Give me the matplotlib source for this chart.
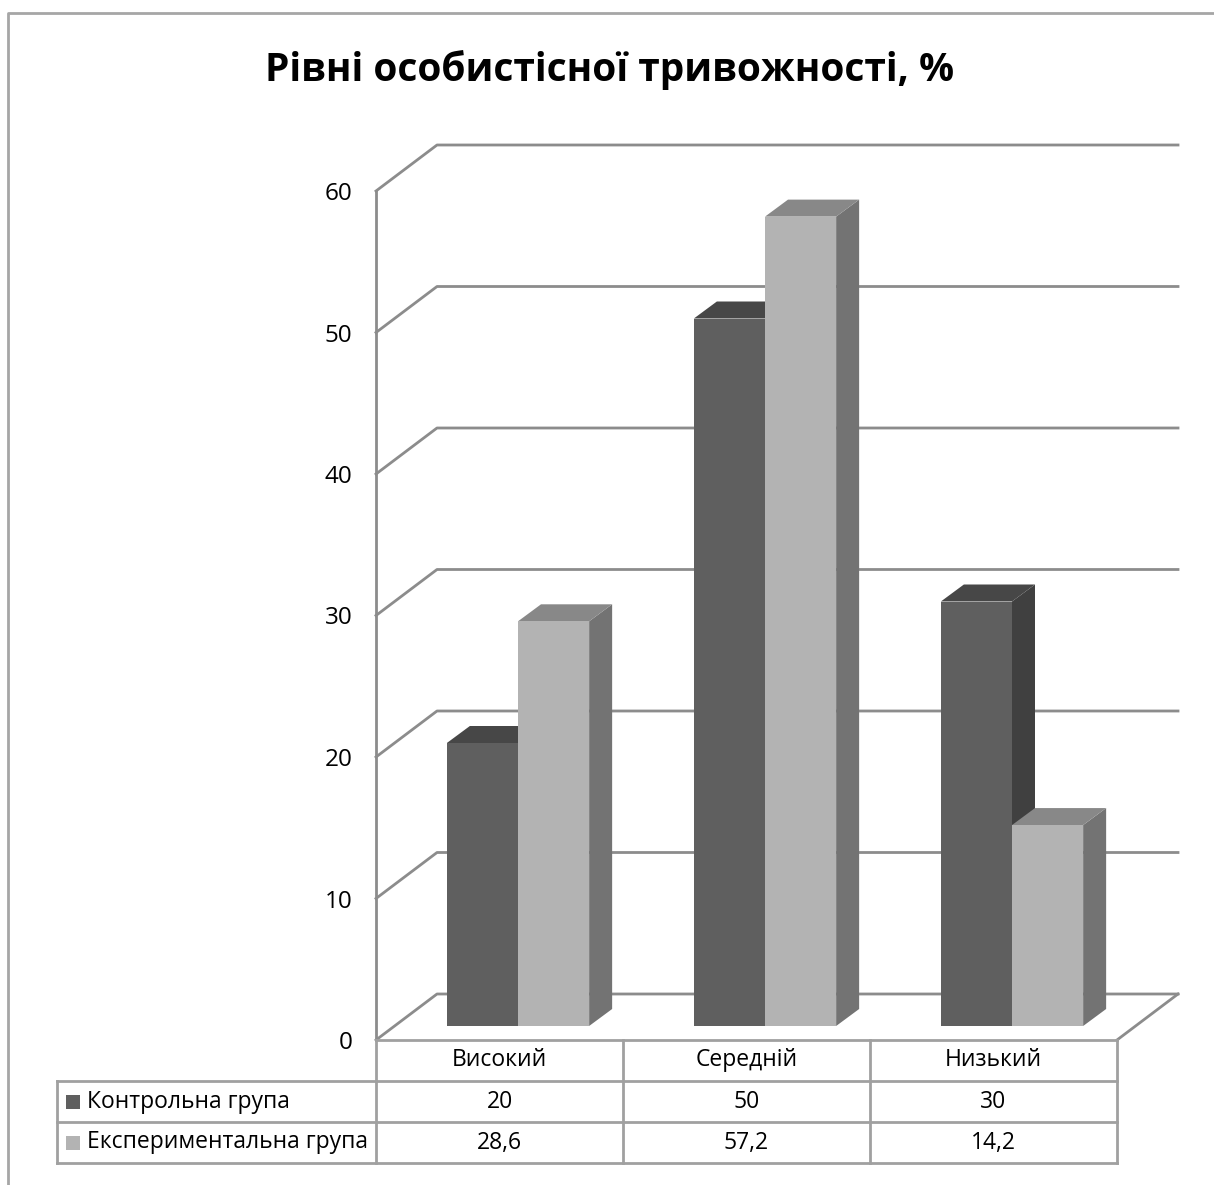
import numpy as np
import matplotlib
matplotlib.use("Agg")
import matplotlib.pyplot as plt
from matplotlib.patches import Polygon, Rectangle
from matplotlib.lines import Line2D
from matplotlib.transforms import IdentityTransform

plt.rcParams["font.family"] = ["Open Sans", "DejaVu Sans"]

# дані
kategorii = ["Високий", "Середній", "Низький"]
kontrolna = [20, 50, 30]
eksperym = [28.6, 57.2, 14.2]
serii = ["Контрольна група", "Експериментальна група"]
yticks = [0, 10, 20, 30, 40, 50, 60]

# кольори граней: (фронт, верх, бік)
KOLORY = [("#5f5f5f", "#474747", "#404040"),
          ("#b3b3b3", "#888888", "#737373")]
SIRYI = "#8c8c8c"
TABL = "#a0a0a0"
FS = 16.5

W, H, DPI = 1214, 1185, 100
fig = plt.figure(figsize=(W / DPI, H / DPI), dpi=DPI)

# передня площина осі
x0, x1, y0, y1 = 376, 1117, 1040, 191
ax = fig.add_axes([x0 / W, 1 - y0 / H, (x1 - x0) / W, (y0 - y1) / H])
ax.set_xlim(-0.5, 2.5)
ax.set_ylim(0, 60)
ax.set_facecolor("none")
for s in ["top", "right", "bottom"]:
    ax.spines[s].set_visible(False)
ax.spines["left"].set_color(SIRYI)
ax.spines["left"].set_linewidth(2)
ax.set_xticks([])
ax.set_yticks(yticks)
ax.tick_params(axis="y", length=0, pad=17, labelsize=17.5)

GL = (61, 46)      # глибина задньої стінки, px
PL = (18.5, 14)    # площина стовпців
GB = (23, 17)      # глибина стовпця
bw = 0.288          # ширина одного стовпця в одиницях категорій

ident = IdentityTransform()


def d(x, y, off=(0, 0)):
    p = ax.transData.transform((x, y))
    return np.array([p[0] + off[0], p[1] + off[1]])


def lin(pts, color=SIRYI, lw=2, z=1):
    pts = np.array(pts)
    fig.add_artist(Line2D(pts[:, 0], pts[:, 1], transform=ident,
                          color=color, lw=lw, zorder=z))


# сітка на задній стінці + діагоналі від осі
for v in yticks:
    lin([d(-0.5, v), d(-0.5, v, GL), d(2.5, v, GL)])
# підлога
lin([d(2.5, 0), d(2.5, 0, GL)])

# стовпці
for i in range(len(kategorii)):
    for s, vals in enumerate([kontrolna, eksperym]):
        v = vals[i]
        xa = i + (s - 1) * bw
        xb = xa + bw
        front = [d(xa, 0, PL), d(xb, 0, PL), d(xb, v, PL), d(xa, v, PL)]
        dp = (PL[0] + GB[0], PL[1] + GB[1])
        top = [d(xa, v, PL), d(xb, v, PL), d(xb, v, dp), d(xa, v, dp)]
        side = [d(xb, 0, PL), d(xb, 0, dp), d(xb, v, dp), d(xb, v, PL)]
        cf, ct, cs = KOLORY[s]
        z = 3 + s
        for poly, c in [(side, cs), (top, ct), (front, cf)]:
            fig.add_artist(Polygon(poly, closed=True, transform=ident,
                                   facecolor=c, edgecolor="none", zorder=z))

# таблиця даних
def px(x, y):
    return (x, H - y)


rows_y = [1040, 1081, 1122, 1163]
col_x = [d(-0.5 + k, 0)[0] for k in range(4)]
left_x = 57
# горизонтальні лінії
lin([px(col_x[0], rows_y[0]), px(col_x[-1], rows_y[0])], TABL, 2)
lin([px(col_x[0], rows_y[1]), px(col_x[-1], rows_y[1])], TABL, 2)
lin([px(left_x, rows_y[1]), px(col_x[0], rows_y[1])], TABL, 2)
for yy in rows_y[2:]:
    lin([px(left_x, yy), px(col_x[-1], yy)], TABL, 2)
# вертикальні
for xx in col_x:
    lin([px(xx, rows_y[0]), px(xx, rows_y[-1])], TABL, 2)
lin([px(left_x, rows_y[1]), px(left_x, rows_y[-1])], TABL, 2)


def fmt(v):
    return f"{v:g}".replace(".", ",")


for k, kat in enumerate(kategorii):
    cx = (col_x[k] + col_x[k + 1]) / 2
    fig.text(cx / W, 1 - (rows_y[0] + rows_y[1]) / 2 / H, kat,
             ha="center", va="center", fontsize=FS)
    for r, vals in enumerate([kontrolna, eksperym]):
        cy = (rows_y[r + 1] + rows_y[r + 2]) / 2
        fig.text(cx / W, 1 - cy / H, fmt(vals[k]),
                 ha="center", va="center", fontsize=FS)

for r, nazva in enumerate(serii):
    cy = (rows_y[r + 1] + rows_y[r + 2]) / 2
    fig.add_artist(Rectangle((66 / W, 1 - (cy + 7) / H), 14 / W, 14 / H,
                             transform=fig.transFigure,
                             facecolor=KOLORY[r][0], edgecolor="none"))
    fig.text(87 / W, 1 - cy / H, nazva, ha="left", va="center", fontsize=FS)

# заголовок
fig.text(610 / W, 1 - 70 / H, "Рівні особистісної тривожності, %",
         ha="center", va="center", fontsize=28, fontweight="bold")

# рамка області діаграми
lin([(8, 0), (8, H - 13), (W, H - 13)], "#a6a6a6", 2)

fig.savefig("out.png", dpi=DPI)
